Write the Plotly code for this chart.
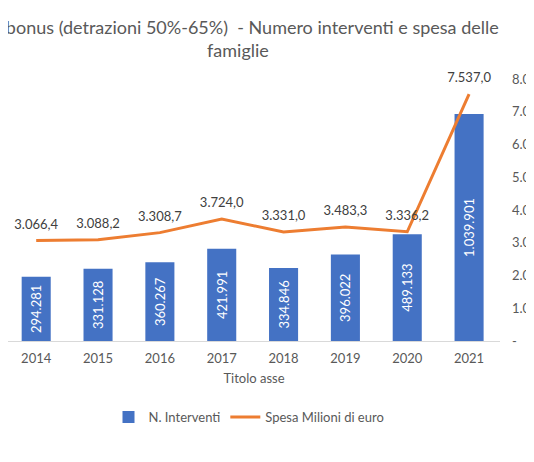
import plotly.graph_objects as go

# Ecobonus data (detrazioni 50%-65%)
anni = ['2014', '2015', '2016', '2017', '2018', '2019', '2020', '2021']
n_interventi = [294281, 331128, 360267, 421991, 334846, 396022, 489133, 1039901]
spesa_milioni = [3066.4, 3088.2, 3308.7, 3724.0, 3331.0, 3483.3, 3336.2, 7537.0]
spesa_ticks = [0, 1000, 2000, 3000, 4000, 5000, 6000, 7000, 8000]


def fmt_it(v, dec=0):
    # italian style: dot for thousands, comma for decimals
    s = f'{v:,.{dec}f}'
    return s.replace(',', 'X').replace('.', ',').replace('X', '.')


FONT = 'Lato'
GREY = '#595959'
DARK = '#404040'

# the page keeps an 8px body margin, so the figure is 8px smaller than the window
W, H = 526, 454

bar_trace = go.Bar(
    x=anni, y=n_interventi, name='N. Interventi',
    marker=dict(color='#4472C4', line=dict(width=0)),
    width=0.47,
    text=[fmt_it(v) for v in n_interventi],
    textposition='inside', insidetextanchor='middle', textangle=-90,
    constraintext='none',
    textfont=dict(color='white', size=13, family=FONT),
    yaxis='y', hoverinfo='x+y',
)

line_trace = go.Scatter(
    x=anni, y=spesa_milioni, name='Spesa Milioni di euro',
    mode='lines', line=dict(color='#ED7D31', width=3),
    yaxis='y2',
)

# data labels for the line, kept out of the legend (invisible markers push text up)
label_trace = go.Scatter(
    x=anni, y=spesa_milioni, mode='markers+text', showlegend=False,
    marker=dict(size=12, opacity=0),
    text=[fmt_it(v, 1) for v in spesa_milioni],
    textposition='top center', cliponaxis=False,
    textfont=dict(color=DARK, size=13, family=FONT),
    yaxis='y2', hoverinfo='skip',
)

layout = go.Layout(
    width=W, height=H,
    margin=dict(l=0, r=34, t=71, b=121, pad=0),
    paper_bgcolor='white', plot_bgcolor='white',
    font=dict(family=FONT, color=GREY, size=13),
    title=dict(
        text='Ecobonus (detrazioni 50%-65%)  - Numero interventi e spesa delle<br>famiglie',
        x=230 / W, xref='container', xanchor='center',
        y=1 - 26 / H, yref='container', yanchor='middle',
        font=dict(size=18, color=GREY, family=FONT),
    ),
    xaxis=dict(
        type='category', range=[-0.456, 7.5], automargin=False,
        showline=True, linecolor='#d9d9d9', linewidth=1,
        ticks='', showgrid=False, tickfont=dict(size=13, color=GREY),
        ticklabelstandoff=5,
        title=dict(text='Titolo asse', font=dict(size=13, color=GREY), standoff=9),
    ),
    yaxis=dict(
        range=[0, 1200000], visible=False, showgrid=False, zeroline=False,
    ),
    yaxis2=dict(
        range=[0, 8000], overlaying='y', side='right', showgrid=False,
        zeroline=False, showline=False, ticks='', automargin=False,
        tickvals=spesa_ticks,
        ticktext=['-'] + [fmt_it(v, 1) for v in spesa_ticks[1:]],
        tickfont=dict(size=13, color=GREY),
        ticklabelstandoff=11,
    ),
    legend=dict(
        orientation='h', xref='container', x=241 / W, xanchor='center',
        yref='container', y=1 - 409 / H, yanchor='middle',
        font=dict(size=13, color=GREY), traceorder='normal',
        itemwidth=30,
    ),
    showlegend=True,
)

fig = go.Figure(data=[bar_trace, line_trace, label_trace], layout=layout)
fig.write_html('out.html')
